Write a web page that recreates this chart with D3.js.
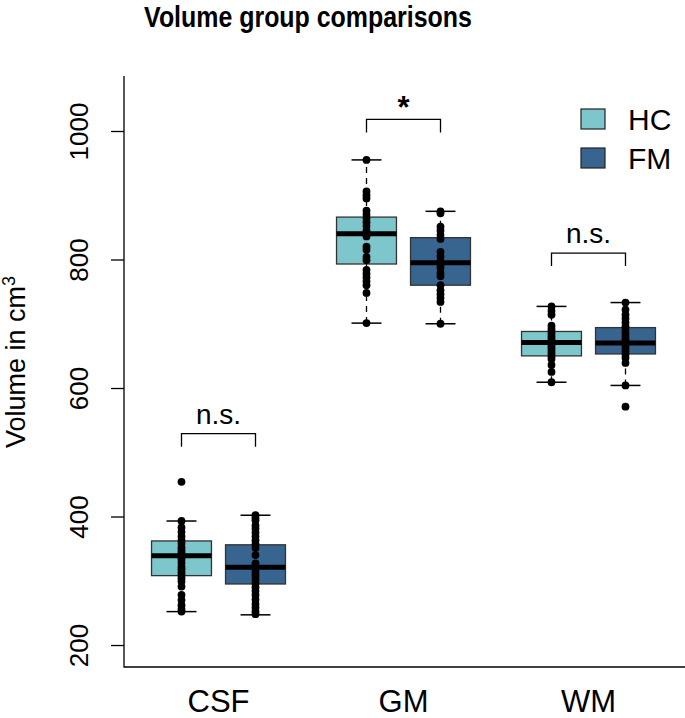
<!DOCTYPE html>
<html>
<head>
<meta charset="utf-8">
<script src="https://cdn.jsdelivr.net/npm/d3@7"></script>
<style>
  body { margin: 0; background: #fff; }
  svg text { font-family: "Liberation Sans", Arial, sans-serif; fill: #000; }
</style>
</head>
<body>
<div class="vis"></div>
<script>
// volume data (cm3)
const tissues = ["CSF", "GM", "WM"],
    groups = ["HC", "FM"],
    groupColors = ["#7cc6cc", "#386490"],
    yTicks = [200, 400, 600, 800, 1000];

// box stats per tissue: [lower whisker, q1, median, q3, upper whisker]
const boxHC = [[252, 308, 339, 362, 393], [701, 793, 840, 866, 955], [609, 650, 671, 688, 727]],
    boxFM = [[247, 295, 321, 356, 402], [700, 760, 795, 834, 875], [604, 653, 670, 694, 733]];

// individual subjects
const ptsHC = [
    [454, 393, 383, 376, 369, 363, 358, 352, 348, 344, 340, 337, 333, 328, 322, 318, 313, 309, 304, 299, 291, 278, 270, 262, 256, 252],
    [955, 906, 900, 895, 876, 870, 864, 858, 852, 845, 841, 836, 820, 815, 804, 799, 784, 778, 772, 766, 760, 748, 701],
    [727, 720, 714, 697, 692, 688, 684, 680, 676, 672, 669, 665, 661, 657, 653, 649, 645, 636, 625, 609]
];
const ptsFM = [
    [402, 398, 394, 386, 381, 375, 369, 363, 357, 351, 340, 327, 322, 318, 313, 308, 302, 296, 290, 284, 278, 271, 264, 258, 252, 248],
    [875, 872, 851, 845, 838, 832, 812, 805, 798, 792, 787, 779, 774, 760, 752, 746, 740, 734, 700],
    [733, 722, 714, 708, 702, 696, 691, 686, 681, 676, 672, 667, 662, 657, 652, 647, 639, 604, 571]
];

// significance brackets
const sigLabels = ["n.s.", "*", "n.s."],
    sigLevel = [529, 1018, 810];

const width = 685, height = 718,
    margin = {top: 76, right: 4, bottom: 51, left: 124};

let svg = d3.select(".vis")
    .append("svg")
    .attr("width", width)
    .attr("height", height)

const x = d3.scaleBand()
    .domain(tissues)
    .range([126, 681])

const xIn = d3.scaleBand()
    .domain(groups)
    .range([0, x.bandwidth()])
    .paddingInner(0.19)
    .paddingOuter(0.345)

const y = d3.scaleLinear()
    .domain([165.8, 1085.6])
    .range([height - margin.bottom, margin.top])

const boxW = xIn.bandwidth(), capW = boxW / 2;

// frame (bty = "l")
svg.append("path")
    .attr("d", "M" + margin.left + "," + margin.top + "V" + (height - margin.bottom) + "H" + width)
    .attr("fill", "none")
    .attr("stroke", "#000")
    .attr("stroke-width", 1.3)

// y axis
let yAxis = svg.append("g")
    .attr("transform", "translate(" + margin.left + ",0)")
    .call(d3.axisLeft(y).tickValues(yTicks).tickSize(13).tickPadding(0).tickFormat(d3.format("d")))
yAxis.select(".domain").remove()
yAxis.selectAll(".tick line").attr("stroke-width", 1.3)
yAxis.selectAll(".tick text")
    .attr("x", null).attr("dy", null)
    .attr("transform", "translate(-36,0) rotate(-90)")
    .style("text-anchor", "middle")
    .style("font-size", "26px")
    .style("font-family", "Liberation Sans, Arial, sans-serif")

svg.append("text")
    .attr("transform", "translate(25,362) rotate(-90)")
    .style("text-anchor", "middle")
    .style("font-size", "27px")
    .html("Volume in cm<tspan dy='-10' style='font-size:18px'>3</tspan>")

// x labels
svg.selectAll(".xlab")
    .data(tissues)
    .join("text")
    .attr("class", "xlab")
    .attr("x", d => x(d) + x.bandwidth() / 2)
    .attr("y", 712)
    .style("text-anchor", "middle")
    .style("font-size", "31px")
    .text(d => d)

// boxes
const rows = [];
tissues.forEach((t, i) => {
    rows.push({t: t, g: "HC", c: groupColors[0], s: boxHC[i], p: ptsHC[i]});
    rows.push({t: t, g: "FM", c: groupColors[1], s: boxFM[i], p: ptsFM[i]});
});

let box = svg.selectAll(".box")
    .data(rows)
    .join("g")
    .attr("class", "box")
    .attr("transform", d => "translate(" + (x(d.t) + xIn(d.g) + boxW / 2) + ",0)")

box.append("line")
    .attr("y1", d => y(d.s[0])).attr("y2", d => y(d.s[1]))
    .attr("stroke", "#000").attr("stroke-width", 1.3).attr("stroke-dasharray", "6,5")
box.append("line")
    .attr("y1", d => y(d.s[3])).attr("y2", d => y(d.s[4]))
    .attr("stroke", "#000").attr("stroke-width", 1.3).attr("stroke-dasharray", "6,5")
box.append("line")
    .attr("x1", -capW / 2).attr("x2", capW / 2)
    .attr("y1", d => y(d.s[0])).attr("y2", d => y(d.s[0]))
    .attr("stroke", "#000").attr("stroke-width", 1.5)
box.append("line")
    .attr("x1", -capW / 2).attr("x2", capW / 2)
    .attr("y1", d => y(d.s[4])).attr("y2", d => y(d.s[4]))
    .attr("stroke", "#000").attr("stroke-width", 1.5)
box.append("rect")
    .attr("x", -boxW / 2).attr("width", boxW)
    .attr("y", d => y(d.s[3])).attr("height", d => y(d.s[1]) - y(d.s[3]))
    .attr("fill", d => d.c).attr("stroke", "#333").attr("stroke-width", 1.3)
box.append("line")
    .attr("x1", -boxW / 2).attr("x2", boxW / 2)
    .attr("y1", d => y(d.s[2])).attr("y2", d => y(d.s[2]))
    .attr("stroke", "#000").attr("stroke-width", 5)

box.selectAll("circle")
    .data(d => d.p)
    .join("circle")
    .attr("cy", d => y(d))
    .attr("r", 3.9)
    .attr("fill", "#000")

// brackets
let sig = svg.selectAll(".sig")
    .data(tissues)
    .join("g")
    .attr("class", "sig")

sig.append("path")
    .attr("d", (d, i) => {
        const x0 = x(d) + xIn("HC") + boxW / 2, x1 = x(d) + xIn("FM") + boxW / 2, yy = y(sigLevel[i]);
        return "M" + x0 + "," + (yy + 13) + "V" + yy + "H" + x1 + "V" + (yy + 13);
    })
    .attr("fill", "none").attr("stroke", "#000").attr("stroke-width", 1.3)

sig.append("text")
    .attr("x", d => x(d) + x.bandwidth() / 2)
    .attr("y", (d, i) => y(sigLevel[i]) - (sigLabels[i] === "*" ? 1 : 10))
    .style("text-anchor", "middle")
    .style("font-size", (d, i) => sigLabels[i] === "*" ? "31px" : "28px")
    .style("font-weight", (d, i) => sigLabels[i] === "*" ? "bold" : "normal")
    .text((d, i) => sigLabels[i])

// legend
let legend = svg.selectAll(".leg")
    .data(groups)
    .join("g")
    .attr("class", "leg")
    .attr("transform", (d, i) => "translate(581," + (109 + i * 39) + ")")
legend.append("rect")
    .attr("width", 24).attr("height", 20)
    .attr("fill", (d, i) => groupColors[i]).attr("stroke", "#222").attr("stroke-width", 1.2)
legend.append("text")
    .attr("x", 47).attr("y", 21)
    .style("font-size", "30px")
    .text(d => d)

// title
svg.append("text")
    .attr("transform", "translate(308,27) scale(0.86,1)")
    .style("text-anchor", "middle")
    .style("font-size", "29px")
    .style("font-weight", "bold")
    .text("Volume group comparisons")
</script>
</body>
</html>
